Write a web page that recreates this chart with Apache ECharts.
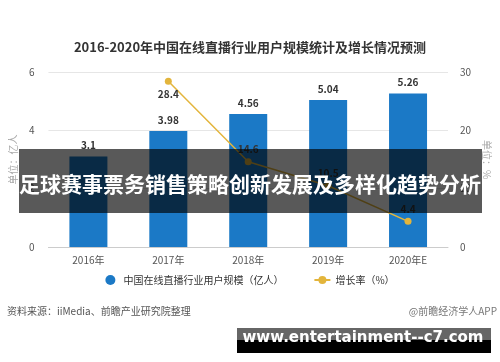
<!DOCTYPE html>
<html><head><meta charset="utf-8">
<script src="https://cdn.jsdelivr.net/npm/echarts@6/dist/echarts.min.js"></script>
<style>html,body{margin:0;padding:0;background:#fff}#c{width:500px;height:362px}</style>
</head><body><div id="c"></div>
<script>
const categories = ['2016年','2017年','2018年','2019年','2020年E'];
const userScale = [3.1, 3.98, 4.56, 5.04, 5.26];
const growthRate = [null, 28.4, 14.6, 10.5, 4.4];
const barName = '中国在线直播行业用户规模（亿人）';
const lineName = '增长率（%）';
const FONT = '"Noto Sans CJK SC", sans-serif';

const lineData = growthRate.map((v, i) => ({
  value: v,
  label: { position: i === 1 ? 'bottom' : 'top' }
}));

const chart = echarts.init(document.getElementById('c'));
chart.setOption({
  animation: false,
  textStyle: { fontFamily: FONT },
  title: { text: '2016-2020年中国在线直播行业用户规模统计及增长情况预测', left: 'center', top: 36,
    textStyle: { fontSize: 13, fontWeight: 'bold', color: '#333', fontFamily: FONT } },
  grid: { left: 48, right: 50, top: 72, bottom: 115 },
  legend: { top: 270, left: 'center', itemGap: 30, itemWidth: 16, itemHeight: 10,
    textStyle: { fontSize: 10, color: '#333', fontFamily: FONT },
    data: [{ name: barName, icon: 'circle' }, { name: lineName }] },
  xAxis: { type: 'category', data: categories,
    axisLine: { lineStyle: { color: '#ccc' } }, axisTick: { show: false },
    axisLabel: { fontSize: 10, color: '#555', margin: 8 } },
  yAxis: [
    { type: 'value', min: 0, max: 6, interval: 2, name: '单位：亿人', nameLocation: 'middle', nameGap: 24,
      nameRotate: 90, nameTextStyle: { fontSize: 10, color: '#aaa' },
      axisLabel: { fontSize: 10, color: '#555', margin: 14 },
      axisLine: { show: false }, axisTick: { show: false },
      splitLine: { lineStyle: { color: '#e6e6e6' } } },
    { type: 'value', min: 0, max: 30, interval: 10, name: '单位：%', nameLocation: 'middle', nameGap: 28,
      nameRotate: 270, nameTextStyle: { fontSize: 10, color: '#aaa' },
      axisLabel: { fontSize: 10, color: '#555', margin: 12 },
      axisLine: { show: false }, axisTick: { show: false }, splitLine: { show: false } }
  ],
  series: [
    { name: barName, type: 'bar', data: userScale, barWidth: 38,
      itemStyle: { color: '#1b79c6' },
      label: { show: true, position: 'top', fontSize: 10, fontWeight: 'bold', color: '#333', distance: 6 } },
    { name: lineName, type: 'line', yAxisIndex: 1, data: lineData, symbol: 'circle', symbolSize: 7,
      lineStyle: { color: '#e3b53c', width: 1.5 }, itemStyle: { color: '#e3b53c' },
      label: { show: true, fontSize: 10, fontWeight: 'bold', color: '#333', distance: 4 } }
  ],
  graphic: [
    { type: 'rect', shape: { x: 19, y: 149, width: 463, height: 64 }, style: { fill: 'rgba(0,0,0,0.65)' }, z: 100 },
    { type: 'text', x: 250, y: 184, style: { text: '足球赛事票务销售策略创新发展及多样化趋势分析', fill: '#fff',
      font: 'bold 21px "Noto Sans CJK SC"', align: 'center', verticalAlign: 'middle' }, z: 101 },
    { type: 'text', x: 7, y: 311, style: { text: '资料来源：iiMedia、前瞻产业研究院整理', fill: '#555',
      font: '10px "Noto Sans CJK SC"', verticalAlign: 'middle' }, z: 50 },
    { type: 'text', x: 497, y: 311, style: { text: '@前瞻经济学人APP', fill: '#777',
      font: '10px "Noto Sans CJK SC"', align: 'right', verticalAlign: 'middle' }, z: 50 },
    { type: 'rect', shape: { x: 237, y: 328, width: 254, height: 12 }, style: { fill: '#666' }, z: 100 },
    { type: 'rect', shape: { x: 237, y: 340, width: 254, height: 13 }, style: { fill: '#000' }, z: 100 },
    { type: 'text', x: 363, y: 338, style: { text: 'www.entertainment--c7.com', fill: '#fff',
      font: 'bold 15px "DejaVu Sans"', align: 'center', verticalAlign: 'middle' }, z: 101 }
  ]
});
</script></body></html>
